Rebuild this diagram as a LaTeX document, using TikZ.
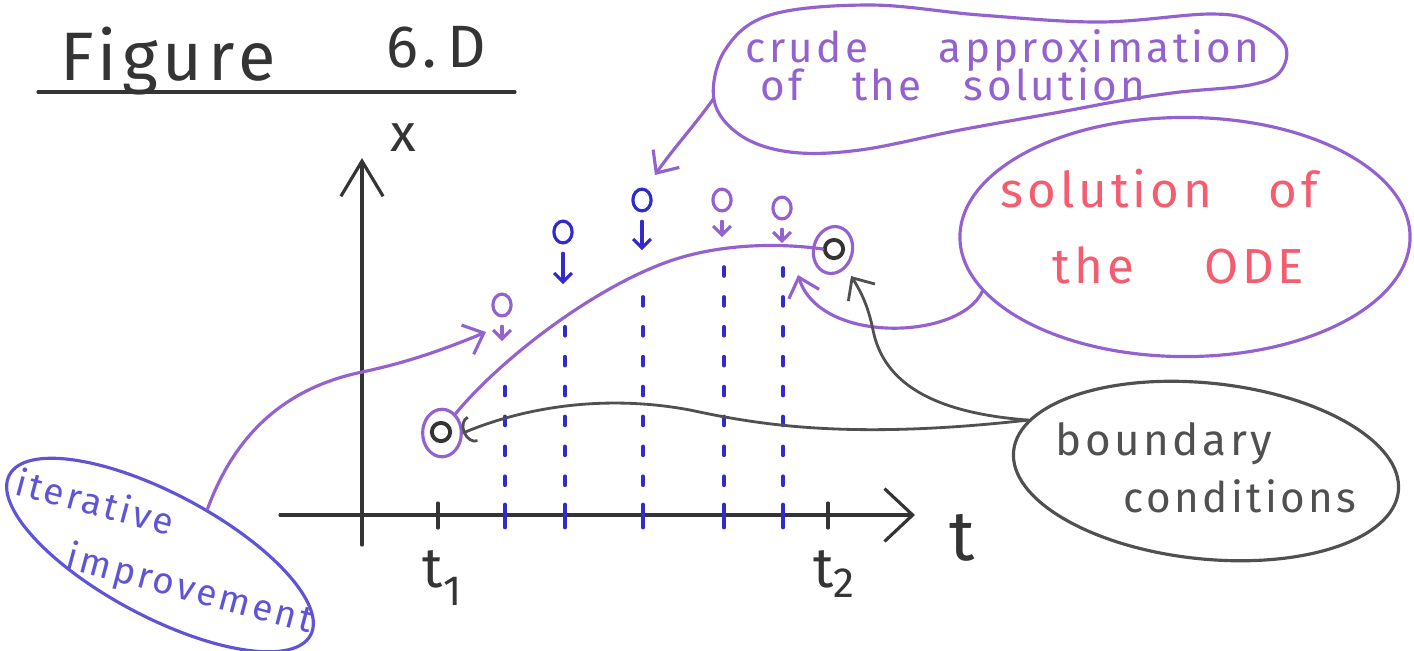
\documentclass[tikz,border=0pt]{standalone}
\usepackage{fontspec}
\setmainfont{Fira Sans}[LetterSpace=8]
\usetikzlibrary{arrows.meta,shapes.geometric}
\definecolor{penpurple}{RGB}{148,98,208}
\definecolor{penviolet}{RGB}{96,84,214}
\definecolor{penblue}{RGB}{50,42,205}
\definecolor{penred}{RGB}{244,92,112}
\definecolor{pengray}{RGB}{80,80,80}
\definecolor{penblack}{RGB}{52,52,52}
\newcommand{\handsize}[1]{\fontsize{#1}{#1}\selectfont}

\begin{document}
\begin{tikzpicture}[x=0.01cm,y=-0.01cm,line cap=round,
    hand/.style={inner sep=0pt,anchor=base west},
    bubble/.style={draw,ellipse,line width=0.9pt,inner sep=0pt},
    ring/.style={draw=penpurple,ellipse,line width=0.9pt,inner sep=0pt,minimum width=11pt,minimum height=13.5pt},
    dot/.style={draw=penblack,circle,line width=1.1pt,inner sep=0pt,minimum size=5.2pt},
    guess/.style={draw,ellipse,line width=0.9pt,inner sep=0pt,minimum width=5.2pt,minimum height=6.2pt},
    barb/.style={-{Straight Barb[length=5pt,width=9pt]}},
    smallbarb/.style={-{Straight Barb[length=2.5pt,width=5pt]}},
    gridline/.style={penblue,line width=1.1pt,dash pattern=on 2.5pt off 6pt}]
    \useasboundingbox (0,0) rectangle (1414,650);

    % Title
    \node[hand,penblack,font=\handsize{19.5}] (figword) at (60,80) {Figure};
    \node[hand,penblack,font=\handsize{17}] (fignum) at (386,67) {6.\,D};
    \draw[penblack,line width=0.9pt] (38,92) -- (515,92);

    % Axes
    \coordinate (tfrom) at (280,515);
    \coordinate (tto) at (915,515);
    \coordinate (xfrom) at (362,545);
    \coordinate (xto) at (362,158);
    \draw[penblack,line width=0.9pt,-{Straight Barb[length=8pt,width=15pt]}] (tfrom) -- (tto);
    \draw[penblack,line width=0.9pt,-{Straight Barb[length=10pt,width=12pt]}] (xfrom) -- (xto);
    \node[penblack,font=\handsize{15}] (xlab) at (403,138) {x};
    \node[penblack,font=\handsize{20}] (tlab) at (962,538) {t};
    \foreach \x in {438,828}
        \draw[penblack,line width=0.9pt] (\x,503) -- (\x,528);
    \node[penblack,font=\handsize{16}] (tone) at (442,578) {t\raisebox{-5pt}{\handsize{12}1}};
    \node[penblack,font=\handsize{16}] (ttwo) at (834,574) {t\raisebox{-3pt}{\handsize{12}2}};

    % Grid of the crude approximation
    \foreach \x/\y in {505/372,565/316,643/292,724/266,783/268}{
        \draw[gridline] (\x,515) -- (\x,\y);
        \draw[penblue,line width=1.4pt] (\x,505) -- (\x,527);
    }

    % Boundary values
    \node[dot] (xa) at (441,432) {};
    \node[ring] (xaring) at (442,433) {};
    \node[dot] (xb) at (834,249) {};
    \node[ring,rotate=-15] (xbring) at (833,250) {};

    % Solution of the ODE
    \draw[penpurple,line width=0.9pt] (xaring.55) .. controls (500,360) and (590,290) .. (667,262)
        .. controls (720,243) and (780,243) .. (xb.west);

    % Crude approximation and its corrections
    \foreach \i/\x/\y/\e/\c in {1/502/305/341/penpurple,2/563/232/284/penblue,3/642/200/250/penblue,4/722/200/237/penpurple,5/782/208/243/penpurple}{
        \node[guess,draw=\c] (g\i) at (\x,\y) {};
        \coordinate (c\i) at (\x,\e);
        \draw[\c,line width=0.9pt,smallbarb] ([yshift=-2.5pt]g\i.south) -- (c\i);
    }

    % Bubble: crude approximation
    \draw[penpurple,line width=0.9pt] plot[smooth cycle,tension=0.6] coordinates {(1255,22) (1285,45) (1280,72) (1250,85) (1180,92) (1125,100) (1060,112) (960,130) (860,150) (790,152) (740,135) (714,100) (725,50) (770,15) (870,5) (980,15) (1100,22) (1210,14)};
    \node[hand,penpurple,font=\handsize{12}] (crudeA) at (745,62) {crude\hspace{20pt}approximation};
    \node[hand,penpurple,font=\handsize{12}] (crudeB) at (760,100) {of\hspace{14pt}the\hspace{12pt}solution};
    \coordinate (crudetail) at (714,98);
    \coordinate (crudetip) at (655,175);
    \draw[penpurple,line width=0.9pt,barb] (crudetail) .. controls (695,125) and (672,150) .. (crudetip);

    % Bubble: solution of the ODE
    \node[bubble,draw=penpurple,minimum width=128pt,minimum height=68pt] (solbub) at (1185,237) {};
    \node[hand,penred,font=\handsize{14}] (solA) at (1000,207) {solution\hspace{16pt}of};
    \node[hand,penred,font=\handsize{14}] (solB) at (1052,283) {the\hspace{20pt}ODE};
    \coordinate (soltip) at (798,275);
    \draw[penpurple,line width=0.9pt,barb] (solbub.195) .. controls (960,340) and (820,345) .. (soltip);

    % Bubble: boundary conditions
    \node[bubble,draw=pengray,minimum width=110pt,minimum height=50pt,rotate=-6] (bndbub) at (1206,471) {};
    \node[hand,pengray,font=\handsize{12.5}] (bndA) at (1055,455) {boundary};
    \node[hand,pengray,font=\handsize{12}] (bndB) at (1123,512) {conditions};
    \coordinate (bndtip) at (851,276);
    \draw[pengray,line width=0.8pt,-{Arc Barb[length=3pt,width=8pt]}] (bndbub.170) .. controls (850,440) and (760,425) .. (690,410)
        .. controls (610,395) and (530,405) .. (xaring.east);
    \draw[pengray,line width=0.8pt,barb] (bndbub.170) .. controls (920,412) and (882,375) .. (873,330)
        .. controls (868,305) and (860,290) .. (bndtip);

    % Bubble: iterative improvement
    \node[bubble,draw=penviolet,minimum width=97pt,minimum height=35pt,rotate=-28] (itbub) at (160,555) {};
    \node[hand,penviolet,font=\fontsize{10.5}{16.5}\selectfont,align=left,rotate=-15] (itlab) at (-2,550)
        {iterative\\\hspace{19.5pt}improvement};
    \coordinate (ittip) at (486,332);
    \draw[penpurple,line width=0.9pt,barb] (itbub.72) .. controls (240,420) and (300,385) .. (362,372)
        .. controls (410,362) and (450,347) .. (ittip);
\end{tikzpicture}
\end{document}
